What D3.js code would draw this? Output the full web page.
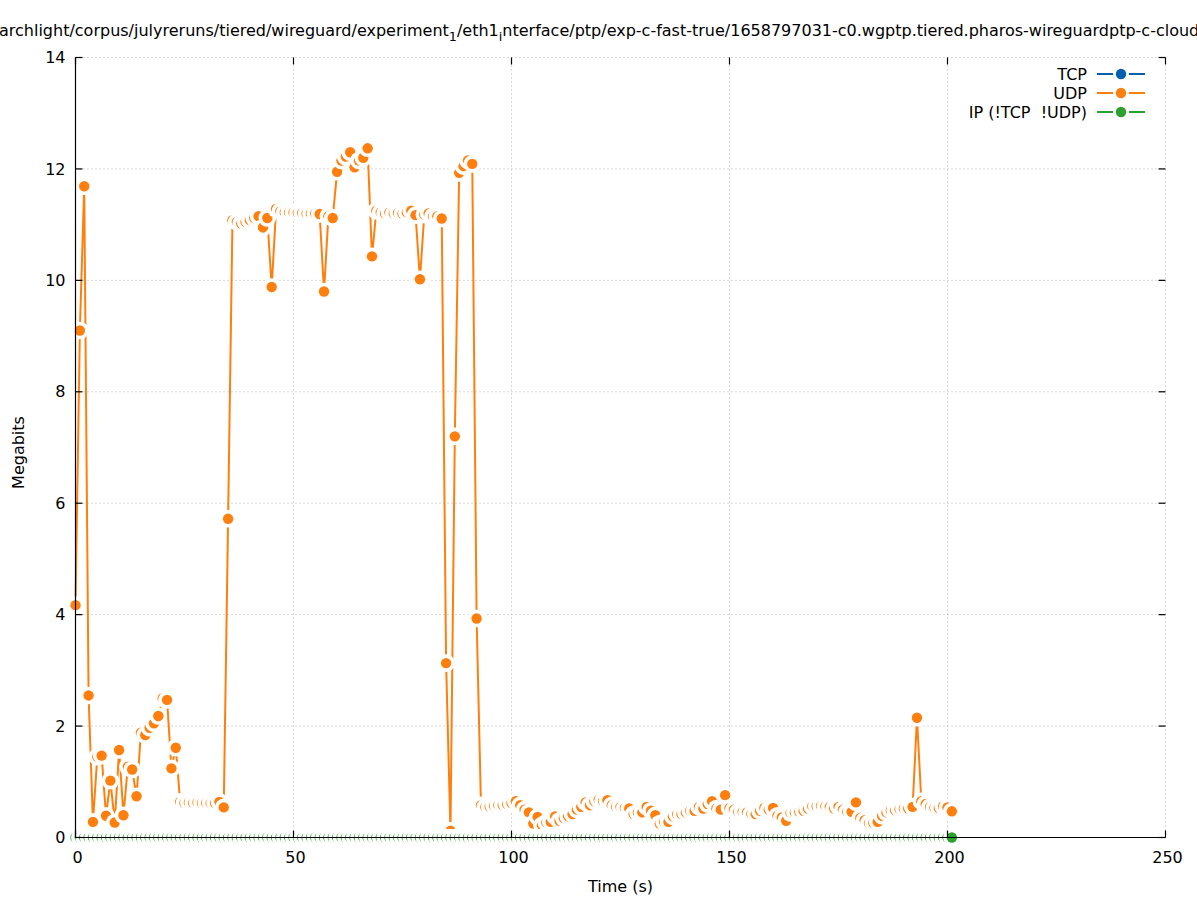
<!DOCTYPE html>
<html><head><meta charset="utf-8">
<script src="https://cdn.jsdelivr.net/npm/d3@7"></script>
<style>
body{margin:0;background:#fff;}
svg{display:block;}
text{font-family:"DejaVu Sans",sans-serif;fill:#000;}
</style>
</head><body>
<svg id="chart" width="1197" height="900"></svg>
<script>
// ---- data ----
const timeSeconds = [0,1,2,3,4,5,6,7,8,9,10,11,12,13,14,15,16,17,18,19,20,21,22,23,24,25,26,27,28,29,30,31,32,33,34,35,36,37,38,39,40,41,42,43,44,45,46,47,48,49,50,51,52,53,54,55,56,57,58,59,60,61,62,63,64,65,66,67,68,69,70,71,72,73,74,75,76,77,78,79,80,81,82,83,84,85,86,87,88,89,90,91,92,93,94,95,96,97,98,99,100,101,102,103,104,105,106,107,108,109,110,111,112,113,114,115,116,117,118,119,120,121,122,123,124,125,126,127,128,129,130,131,132,133,134,135,136,137,138,139,140,141,142,143,144,145,146,147,148,149,150,151,152,153,154,155,156,157,158,159,160,161,162,163,164,165,166,167,168,169,170,171,172,173,174,175,176,177,178,179,180,181,182,183,184,185,186,187,188,189,190,191,192,193,194,195,196,197,198,199,200,201];

const udpMegabits = [4.17,9.10,11.69,2.55,0.28,1.45,1.47,0.39,1.02,0.27,
1.57,0.40,1.27,1.22,0.74,1.88,1.84,1.97,2.05,2.18,
2.50,2.47,1.24,1.61,0.64,0.62,0.63,0.62,0.63,0.62,
0.62,0.62,0.62,0.64,0.54,5.72,11.08,11.05,11.02,11.05,
11.08,11.12,11.15,10.95,11.12,9.88,11.28,11.24,11.22,11.22,
11.22,11.21,11.21,11.20,11.20,11.20,11.19,9.80,11.15,11.12,
11.95,12.15,12.22,12.30,12.03,12.15,12.20,12.37,10.43,11.25,
11.22,11.20,11.22,11.20,11.21,11.20,11.22,11.25,11.17,10.02,
11.18,11.20,11.15,11.15,11.11,3.13,0.12,7.20,11.93,12.05,
12.15,12.09,3.93,0.58,0.55,0.55,0.57,0.58,0.58,0.60,
0.62,0.65,0.58,0.50,0.45,0.25,0.37,0.22,0.27,0.28,
0.38,0.30,0.35,0.38,0.42,0.50,0.55,0.63,0.58,0.65,
0.68,0.66,0.67,0.58,0.55,0.55,0.53,0.52,0.42,0.45,
0.45,0.55,0.48,0.40,0.25,0.28,0.28,0.38,0.42,0.42,
0.45,0.48,0.48,0.55,0.52,0.60,0.65,0.52,0.50,0.76,
0.53,0.50,0.46,0.46,0.45,0.42,0.42,0.48,0.53,0.50,
0.53,0.39,0.36,0.30,0.44,0.45,0.46,0.48,0.52,0.56,
0.56,0.57,0.56,0.55,0.52,0.55,0.50,0.46,0.46,0.63,
0.35,0.31,0.26,0.26,0.28,0.39,0.45,0.49,0.49,0.51,
0.52,0.52,0.55,2.15,0.65,0.60,0.55,0.53,0.53,0.56,
0.54,0.47];

const ipMegabits = [0,0,0,0,0,0,0,0,0,0,0,0,0,0,0,0,0,0,0,0,
0,0,0,0,0,0,0,0,0,0,0,0,0,0,0,0,0,0,0,0,
0,0,0,0,0,0,0,0,0,0,0,0,0,0,0,0,0,0,0,0,
0,0,0,0,0,0,0,0,0,0,0,0,0,0,0,0,0,0,0,0,
0,0,0,0,0,0,0,0,0,0,0,0,0,0,0,0,0,0,0,0,
0,0,0,0,0,0,0,0,0,0,0,0,0,0,0,0,0,0,0,0,
0,0,0,0,0,0,0,0,0,0,0,0,0,0,0,0,0,0,0,0,
0,0,0,0,0,0,0,0,0,0,0,0,0,0,0,0,0,0,0,0,
0,0,0,0,0,0,0,0,0,0,0,0,0,0,0,0,0,0,0,0,
0,0,0,0,0,0,0,0,0,0,0,0,0,0,0,0,0,0,0,0,
0,0];

const tcpMegabits = [];

const xTickValues = [0,50,100,150,200,250];
const yTickValues = [0,2,4,6,8,10,12,14];
const seriesNames = ["TCP","UDP","IP (!TCP\u00a0\u00a0!UDP)"];
const seriesColors = ["#0060ad","#ff7f0e","#2ca02c"];
const xTitle = "Time (s)";
const yTitle = "Megabits";

// ---- layout ----
const W = 1197, H = 900;
const L = 75.5, R = 1165.5, T = 57.5, B = 837.5;
const ptR = 5.2, blankR = 8.8, tickLen = 7;
const FS = 16;

const svg = d3.select("#chart");
svg.append("rect").attr("width",W).attr("height",H).attr("fill","#fff");

const x = d3.scaleLinear().domain([0,250]).range([L,R]);
const y = d3.scaleLinear().domain([0,14]).range([B,T]);

// grid
const grid = svg.append("g").attr("stroke","#b0b0b0").attr("stroke-width",1).attr("stroke-dasharray","1,3");
xTickValues.forEach(v=>{
  grid.append("line").attr("x1",x(v)).attr("x2",x(v)).attr("y1",T).attr("y2",B);
});
yTickValues.forEach(v=>{
  grid.append("line").attr("x1",L).attr("x2",R).attr("y1",y(v)).attr("y2",y(v));
});

// series
function drawSeries(times, vals, color){
  const pts = times.map((t,i)=>({t, v: vals[i]})).filter(d=>d.v!==undefined);
  if(!pts.length) return;
  const line = d3.line().x(d=>x(d.t)).y(d=>y(d.v));
  svg.append("path").datum(pts).attr("d",line)
    .attr("fill","none").attr("stroke",color).attr("stroke-width",2).attr("stroke-linejoin","round");
  const g = svg.append("g");
  pts.forEach(d=>{
    g.append("circle").attr("cx",x(d.t)).attr("cy",y(d.v)).attr("r",blankR).attr("fill","#fff");
    g.append("circle").attr("cx",x(d.t)).attr("cy",y(d.v)).attr("r",ptR).attr("fill",color);
  });
}
drawSeries(timeSeconds.slice(0,tcpMegabits.length), tcpMegabits, seriesColors[0]);
drawSeries(timeSeconds, udpMegabits, seriesColors[1]);
drawSeries(timeSeconds, ipMegabits, seriesColors[2]);

// border (left & bottom) and ticks (mirrored)
const ax = svg.append("g").attr("stroke","#000").attr("stroke-width",1.2);
ax.append("line").attr("x1",L).attr("x2",L).attr("y1",T).attr("y2",B);
ax.append("line").attr("x1",L).attr("x2",R).attr("y1",B).attr("y2",B);
yTickValues.forEach(v=>{
  ax.append("line").attr("x1",L).attr("x2",L+tickLen).attr("y1",y(v)).attr("y2",y(v));
  ax.append("line").attr("x1",R-tickLen).attr("x2",R).attr("y1",y(v)).attr("y2",y(v));
});
xTickValues.forEach(v=>{
  ax.append("line").attr("x1",x(v)).attr("x2",x(v)).attr("y1",B).attr("y2",B-tickLen);
  ax.append("line").attr("x1",x(v)).attr("x2",x(v)).attr("y1",T).attr("y2",T+tickLen);
});

// tick labels
const xAxisG = svg.append("g").attr("transform",`translate(1.5,${B})`)
  .call(d3.axisBottom(x).tickValues(xTickValues).tickSize(0).tickPadding(14).tickFormat(d3.format("d")));
xAxisG.select(".domain").remove();
xAxisG.selectAll("text").attr("font-size",FS).attr("font-family","DejaVu Sans, sans-serif").attr("fill","#000");
const yAxisG = svg.append("g").attr("transform",`translate(${L-10},0)`)
  .call(d3.axisLeft(y).tickValues(yTickValues).tickSize(0).tickPadding(0).tickFormat(d3.format("d")));
yAxisG.select(".domain").remove();
yAxisG.selectAll("text").attr("font-size",FS).attr("font-family","DejaVu Sans, sans-serif").attr("fill","#000");

// axis titles
svg.append("text").attr("x",(L+R)/2).attr("y",892).attr("text-anchor","middle").attr("font-size",FS).text(xTitle);
svg.append("text").attr("transform",`translate(24,${(T+B)/2+5}) rotate(-90)`).attr("text-anchor","middle").attr("font-size",FS).text(yTitle);

// legend
seriesNames.forEach((name,i)=>{
  const ly = 74 + 19*i;
  svg.append("text").attr("x",1087).attr("y",ly).attr("dy","0.35em").attr("text-anchor","end").attr("font-size",FS).text(name);
  svg.append("line").attr("x1",1097).attr("x2",1145).attr("y1",ly).attr("y2",ly).attr("stroke",seriesColors[i]).attr("stroke-width",2);
  svg.append("circle").attr("cx",1121).attr("cy",ly).attr("r",8).attr("fill","#fff");
  svg.append("circle").attr("cx",1121).attr("cy",ly).attr("r",ptR).attr("fill",seriesColors[i]);
});

// title (wider than canvas; clipped on both sides like the reference)
const title = svg.append("text").attr("x",-1).attr("y",36).attr("font-size",FS).attr("text-anchor","start");
title.append("tspan").text("archlight/corpus/julyreruns/tiered/wireguard/experiment");
title.append("tspan").attr("font-size",FS*0.8).attr("dy",5).text("1");
title.append("tspan").attr("dy",-5).text("/eth1");
title.append("tspan").attr("font-size",FS*0.8).attr("dy",5).text("i");
title.append("tspan").attr("dy",-5).text("nterface/ptp/exp-c-fast-true/1658797031-c0.wgptp.tiered.pharos-wireguardptp-c-cloudlab.pcap");
</script>
</body></html>
